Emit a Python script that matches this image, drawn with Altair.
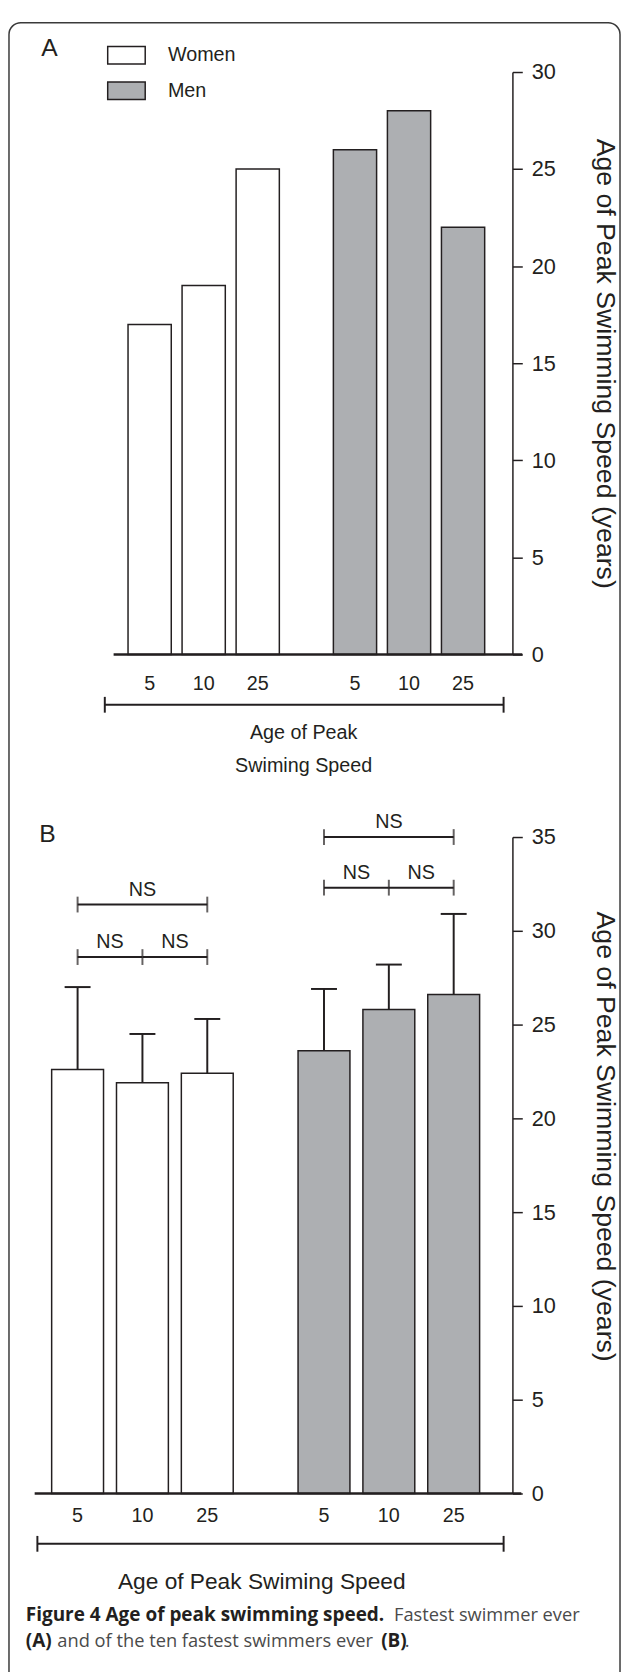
import altair as alt
import pandas as pd

# ---------------- data ----------------
sizes = ["5", "10", "25"]
groups = ["Women", "Men"]

# Panel A: fastest swimmer ever
a_women = [17, 19, 25]
a_men = [26, 28, 22]

# Panel B: ten fastest swimmers ever (mean and SD)
b_women_mean = [22.6, 21.9, 22.4]
b_women_sd = [4.4, 2.6, 2.9]
b_men_mean = [23.6, 25.8, 26.6]
b_men_sd = [3.3, 2.4, 4.3]

# NS comparison brackets in panel B
ns_group = ["Women", "Women", "Women", "Men", "Men", "Men"]
ns_from = [0, 1, 0, 0, 1, 0]
ns_to = [1, 2, 2, 1, 2, 2]
ns_level = [28.6, 28.6, 31.4, 32.3, 32.3, 35.0]
ns_text = ["NS", "NS", "NS", "NS", "NS", "NS"]

y_ticks_a = [0, 5, 10, 15, 20, 25, 30]
y_ticks_b = [0, 5, 10, 15, 20, 25, 30, 35]

panel_letters = ["A", "B"]
axis_title = "Age of Peak Swimming Speed (years)"
xtitle_a = ["Age of Peak", "Swiming Speed"]
xtitle_b = ["Age of Peak Swiming Speed"]
caption_runs = [
    ("Figure 4 Age of peak swimming speed.", "bold", 18, 0),
    ("Fastest swimmer ever", "normal", 391, 0),
    ("(A)", "bold", 18, 1),
    ("and of the ten fastest swimmers ever", "normal", 50, 1),
    ("(B)", "bold", 378, 1),
    (".", "normal", 402, 1),
]

# ---------------- style / layout ----------------
DARK = "#231F20"
GRAY = "#ADAFB2"
FONT = "Liberation Sans"
CAPFONT = "Open Sans"
GROUP_STEP = 3.8
HALF = 0.4
CAP = 0.2

def pos(g, i):
    return groups.index(g) * GROUP_STEP + i

rows_a = []
for g, vals in (("Women", a_women), ("Men", a_men)):
    for i, (s, v) in enumerate(zip(sizes, vals)):
        p = pos(g, i)
        rows_a.append(dict(group=g, size=s, value=v, p=p, x0=p - HALF, x1=p + HALF))
dfa = pd.DataFrame(rows_a)

rows_b = []
for g, m, sd in (("Women", b_women_mean, b_women_sd), ("Men", b_men_mean, b_men_sd)):
    for i, s in enumerate(sizes):
        p = pos(g, i)
        rows_b.append(dict(group=g, size=s, value=m[i], upper=m[i] + sd[i], p=p,
                           x0=p - HALF, x1=p + HALF, c0=p - CAP, c1=p + CAP))
dfb = pd.DataFrame(rows_b)

ns_rows = []
ns_ticks = []
for g, f, t, lv, tx in zip(ns_group, ns_from, ns_to, ns_level, ns_text):
    pf, pt = pos(g, f), pos(g, t)
    ns_rows.append(dict(x0=pf, x1=pt, xm=(pf + pt) / 2, level=lv, text=tx))
    ns_ticks.append(dict(p=pf, level=lv))
    ns_ticks.append(dict(p=pt, level=lv))
dfns = pd.DataFrame(ns_rows)
dfnt = pd.DataFrame(ns_ticks).drop_duplicates()

xa = alt.Scale(domain=[0, 5.8], range=[143.5, 461.0], nice=False, zero=False)
ya = alt.Scale(domain=[0, 30], range=[644, 54], nice=False)
xb = alt.Scale(domain=[0, 5.8], range=[70.5, 451.5], nice=False, zero=False)
yb = alt.Scale(domain=[0, 35], range=[1494, 829], nice=False)

fill_scale = alt.Scale(domain=groups, range=["white", GRAY])

def yaxis(vals, **kw):
    return alt.Axis(orient="right", values=vals, title=axis_title, grid=False,
                    domainColor=DARK, domainWidth=1.5, tickColor=DARK, tickWidth=1.5,
                    tickSize=10, labelPadding=9, labelFontSize=22, labelFont=FONT,
                    labelColor=DARK, titleFont=FONT, titleFontSize=27, titleFontWeight="normal",
                    titleColor=DARK, titleAngle=90, titlePadding=36, labelAlign="left", **kw)

axA = yaxis(y_ticks_a)
axB = yaxis(y_ticks_b, titleY=1132)
one = pd.DataFrame({"d": [0]})

# ---------------- panel A ----------------
barsA = alt.Chart(dfa).mark_rect(stroke=DARK, strokeWidth=1.5).encode(
    x=alt.X("x0:Q", scale=xa, axis=None), x2="x1:Q",
    y=alt.Y("value:Q", scale=ya, axis=axA), y2=alt.datum(0),
    fill=alt.Fill("group:N", scale=fill_scale, legend=alt.Legend(
        orient="none", legendX=100, legendY=17, title=None, padding=0,
        symbolType="M-1,-0.47L1,-0.47L1,0.47L-1,0.47Z", symbolSize=1444,
        symbolStrokeColor=DARK, symbolStrokeWidth=1.5, symbolOpacity=1,
        labelFont=FONT, labelFontSize=20, labelColor=DARK, labelOffset=22,
        rowPadding=4)),
)
baseA = alt.Chart(one).mark_rule(color=DARK, strokeWidth=2.5).encode(
    x=alt.X("a:Q", scale=xa, axis=None), x2="b:Q", y=alt.Y("z:Q", scale=ya, axis=axA)
).transform_calculate(a="-0.667", b="6.896", z="0")
labA = alt.Chart(dfa).mark_text(font=FONT, fontSize=20, color=DARK, baseline="middle").encode(
    x=alt.X("p:Q", scale=xa, axis=None), y=alt.value(674), text="size:N")
brA = alt.Chart(one).mark_rule(color=DARK, strokeWidth=2).encode(
    x=alt.X("a:Q", scale=xa, axis=None), x2="b:Q", y=alt.value(695)
).transform_calculate(a="-0.83", b="6.55")
brAt = alt.Chart(pd.DataFrame({"p": [-0.83, 6.55]})).mark_rule(color=DARK, strokeWidth=2).encode(
    x=alt.X("p:Q", scale=xa, axis=None), y=alt.value(687), y2=alt.value(703))
xtA = alt.Chart(pd.DataFrame({"t": xtitle_a, "yy": [724, 757]})).mark_text(
    font=FONT, fontSize=20, color=DARK, baseline="middle").encode(
    x=alt.X("xm:Q", scale=xa, axis=None), y=alt.Y("yy:Q", scale=None), text="t:N"
).transform_calculate(xm="2.85")
panelA = alt.layer(barsA, baseA, labA, brA, brAt, xtA)

# ---------------- panel B ----------------
barsB = alt.Chart(dfb).mark_rect(stroke=DARK, strokeWidth=1.5).encode(
    x=alt.X("x0:Q", scale=xb, axis=None), x2="x1:Q",
    y=alt.Y("value:Q", scale=yb, axis=axB), y2=alt.datum(0),
    fill=alt.Fill("group:N", scale=fill_scale, legend=None),
)
errB = alt.Chart(dfb).mark_rule(color=DARK, strokeWidth=2).encode(
    x=alt.X("p:Q", scale=xb, axis=None), y=alt.Y("value:Q", scale=yb, axis=axB), y2="upper:Q")
capB = alt.Chart(dfb).mark_rule(color=DARK, strokeWidth=2).encode(
    x=alt.X("c0:Q", scale=xb, axis=None), x2="c1:Q", y=alt.Y("upper:Q", scale=yb, axis=axB))
nsLine = alt.Chart(dfns).mark_rule(color=DARK, strokeWidth=2).encode(
    x=alt.X("x0:Q", scale=xb, axis=None), x2="x1:Q", y=alt.Y("level:Q", scale=yb, axis=axB))
nsTick = alt.Chart(dfnt).mark_tick(color=DARK, orient="vertical", size=16, thickness=2).encode(
    x=alt.X("p:Q", scale=xb, axis=None), y=alt.Y("level:Q", scale=yb, axis=axB))
nsText = alt.Chart(dfns).mark_text(font=FONT, fontSize=20, color=DARK, baseline="middle", dy=-15).encode(
    x=alt.X("xm:Q", scale=xb, axis=None), y=alt.Y("level:Q", scale=yb, axis=axB), text="text:N")
baseB = alt.Chart(one).mark_rule(color=DARK, strokeWidth=2.5).encode(
    x=alt.X("a:Q", scale=xb, axis=None), x2="b:Q", y=alt.Y("z:Q", scale=yb, axis=axB)
).transform_calculate(a="-0.662", b="6.843", z="0")
labB = alt.Chart(dfb).mark_text(font=FONT, fontSize=20, color=DARK, baseline="middle").encode(
    x=alt.X("p:Q", scale=xb, axis=None), y=alt.value(1517), text="size:N")
brB = alt.Chart(one).mark_rule(color=DARK, strokeWidth=2).encode(
    x=alt.X("a:Q", scale=xb, axis=None), x2="b:Q", y=alt.value(1545)
).transform_calculate(a="-0.62", b="6.57")
brBt = alt.Chart(pd.DataFrame({"p": [-0.62, 6.57]})).mark_rule(color=DARK, strokeWidth=2).encode(
    x=alt.X("p:Q", scale=xb, axis=None), y=alt.value(1537), y2=alt.value(1553))
xtB = alt.Chart(pd.DataFrame({"t": xtitle_b})).mark_text(
    font=FONT, fontSize=23, color=DARK, baseline="middle").encode(
    x=alt.X("xm:Q", scale=xb, axis=None), y=alt.value(1584), text="t:N"
).transform_calculate(xm="2.84")
panelB = alt.layer(barsB, errB, capB, nsLine, nsTick, nsText, baseB, labB, brB, brBt, xtB)

# ---------------- decorations ----------------
border = alt.Chart(one).mark_rect(fillOpacity=0, stroke="#3A3A3A", strokeWidth=1.5, cornerRadius=12).encode(
    x=alt.value(1), x2=alt.value(620), y=alt.value(4), y2=alt.value(1720))
letters = alt.Chart(pd.DataFrame({"t": panel_letters, "xx": [42, 40], "yy": [30, 826]})).mark_text(
    font=FONT, fontSize=25, color=DARK, baseline="middle").encode(
    x=alt.X("xx:Q", scale=None), y=alt.Y("yy:Q", scale=None), text="t:N")
cap_df = pd.DataFrame(caption_runs, columns=["t", "w", "xx", "line"])
cap_df["yy"] = 1617 + cap_df["line"] * 27
capB_text = alt.Chart(cap_df[cap_df.w == "bold"]).mark_text(
    font=CAPFONT, fontSize=19.2, fontWeight="bold", color=DARK, align="left", baseline="middle").encode(
    x=alt.X("xx:Q", scale=None), y=alt.Y("yy:Q", scale=None), text="t:N")
capN_text = alt.Chart(cap_df[cap_df.w == "normal"]).mark_text(
    font=CAPFONT, fontSize=18.5, color="#4A4A4A", align="left", baseline="middle").encode(
    x=alt.X("xx:Q", scale=None), y=alt.Y("yy:Q", scale=None), text="t:N")

chart = alt.layer(border, panelA, panelB, letters, capB_text, capN_text).resolve_scale(
    x="independent", y="independent", fill="independent"
).properties(
    width=511, height=1664,
    autosize=alt.AutoSizeParams(type="none"),
    padding={"left": 0, "top": 0, "right": 110, "bottom": 0},
    background="white",
).configure_view(stroke=None)

chart.save("out.html", embed_options={"renderer": "svg", "actions": False})
